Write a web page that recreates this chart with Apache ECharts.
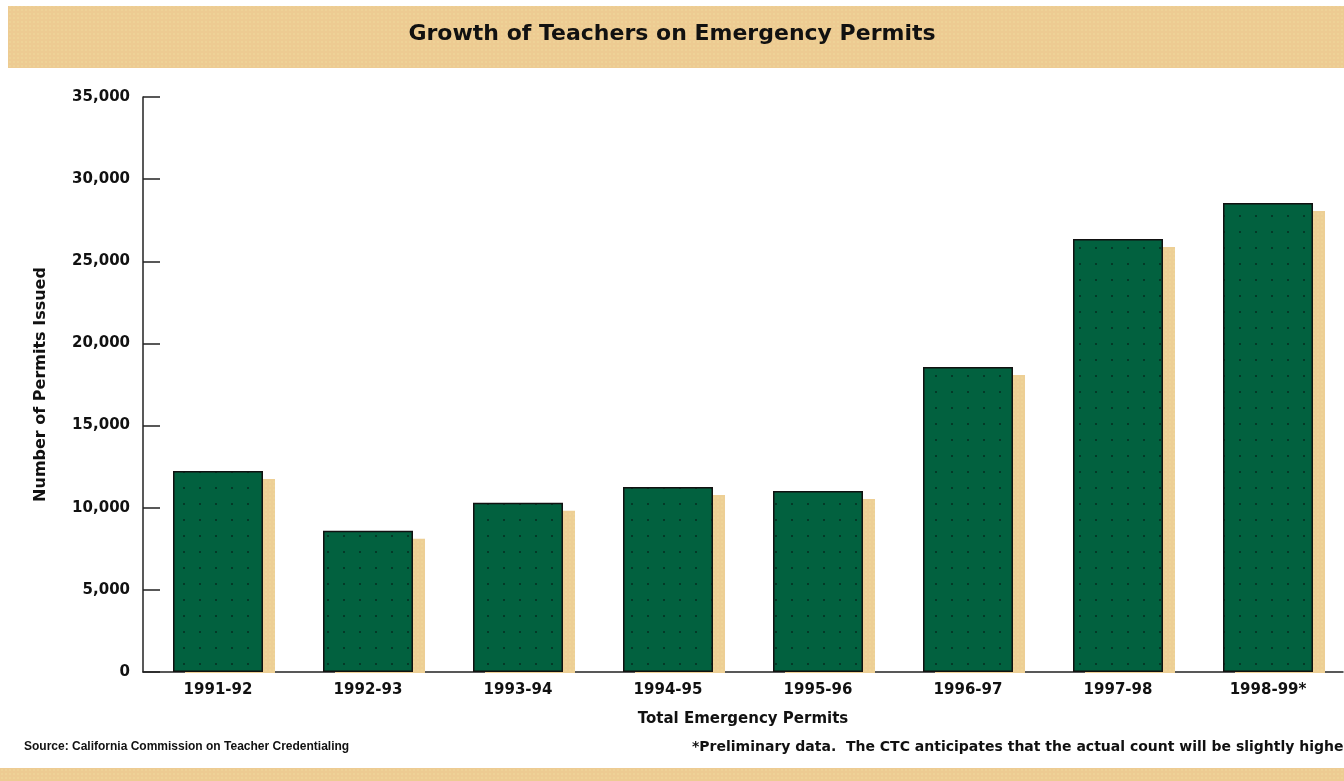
<!DOCTYPE html>
<html>
<head>
<meta charset="utf-8">
<title>Growth of Teachers on Emergency Permits</title>
<script src="https://cdn.jsdelivr.net/npm/echarts@6/dist/echarts.min.js"></script>
<style>
    html,body{margin:0;padding:0;background:#fff;}
    #main{width:1344px;height:781px;}
</style>
</head>
<body>
<div id="main"></div>
<script>
    // data
    const years = ['1991-92', '1992-93', '1993-94', '1994-95', '1995-96', '1996-97', '1997-98', '1998-99*'];
    const permits = [12230, 8600, 10300, 11260, 11020, 18560, 26350, 28550];
    const yTicks = [0, 5000, 10000, 15000, 20000, 25000, 30000, 35000];

    const FONT = '"DejaVu Sans", Arial, sans-serif';
    const FONT_N = '"Liberation Sans", Arial, sans-serif';

    // small dotted tiles used as fills
    function dotTile(bg, dot, size, r){
        const c = document.createElement('canvas');
        c.width = size; c.height = size;
        const ctx = c.getContext('2d');
        ctx.fillStyle = bg;
        ctx.fillRect(0, 0, size, size);
        ctx.fillStyle = dot;
        ctx.fillRect(size / 2 - r / 2, size / 2 - r / 2, r, r);
        return c;
    }
    const barFill = {image: dotTile('#02613f', '#043a28', 16, 2), repeat: 'repeat'};
    const bandFill = {image: dotTile('#edcb92', '#f4e6a6', 4, 1), repeat: 'repeat'};
    const shadowFill = {image: dotTile('#edcf95', '#f3e4a4', 4, 1), repeat: 'repeat'};

    const chart = echarts.init(document.getElementById('main'));

    // tan drop shadow behind every bar, offset right/down, cut at the zero line
    function renderShadow(params, api){
        const top = api.coord([api.value(0), api.value(1)]);
        const base = api.coord([api.value(0), 0]);
        const w = api.size([1, 0])[0] * 0.6;
        const y = top[1] + 8;
        return {
            type: 'rect',
            shape: {x: top[0] - w / 2 + 12, y: y, width: w, height: base[1] - y + 1},
            style: {fill: shadowFill}
        };
    }

    const option = {
        animation: false,
        backgroundColor: '#ffffff',
        grid: {left: 143, right: 1, top: 97, bottom: 109, containLabel: false},
        graphic: [
            {type: 'rect', shape: {x: 8, y: 6, width: 1336, height: 62}, style: {fill: bandFill}, z: 0},
            {type: 'rect', shape: {x: 0, y: 768, width: 1344, height: 13}, style: {fill: bandFill}, z: 0},
            {type: 'text', left: 'center', top: 23, z: 5,
                style: {text: 'Growth of Teachers on Emergency Permits', font: 'bold 22px ' + FONT, fill: '#111'}},
            {type: 'text', left: 24, top: 741, z: 5,
                style: {text: 'Source: California Commission on Teacher Credentialing', font: 'bold 12px ' + FONT_N, fill: '#111'}},
            {type: 'text', left: 692, top: 740, z: 5,
                style: {text: '*Preliminary data.  The CTC anticipates that the actual count will be slightly higher.', font: 'bold 14px ' + FONT, fill: '#111'}}
        ],
        xAxis: {
            type: 'category',
            data: years,
            name: 'Total Emergency Permits',
            nameLocation: 'middle',
            nameGap: 40,
            nameTextStyle: {fontFamily: FONT, fontWeight: 'bold', fontSize: 15, color: '#111'},
            axisLine: {lineStyle: {color: '#222', width: 1.5}},
            axisTick: {inside: true, length: 14, interval: 0, lineStyle: {color: '#222', width: 1.5}},
            axisLabel: {margin: 11, fontFamily: FONT, fontWeight: 'bold', fontSize: 15, color: '#111'},
            splitLine: {show: false}
        },
        yAxis: {
            type: 'value',
            min: yTicks[0],
            max: yTicks[yTicks.length - 1],
            interval: yTicks[1] - yTicks[0],
            name: 'Number of Permits Issued',
            nameLocation: 'middle',
            nameRotate: 90,
            nameGap: 94,
            nameTextStyle: {fontFamily: FONT, fontWeight: 'bold', fontSize: 16, color: '#111'},
            axisLine: {show: true, lineStyle: {color: '#222', width: 1.5}},
            axisTick: {show: true, inside: true, length: 17, lineStyle: {color: '#222', width: 1.5}},
            axisLabel: {
                margin: 13,
                fontFamily: FONT, fontWeight: 'bold', fontSize: 15, color: '#111',
                formatter: v => v.toLocaleString('en-US')
            },
            splitLine: {show: false}
        },
        series: [
            {
                type: 'custom',
                renderItem: renderShadow,
                data: permits.map((v, i) => [i, v]),
                encode: {x: 0, y: 1},
                silent: true,
                z: 1
            },
            {
                type: 'bar',
                data: permits,
                barWidth: '60%',
                itemStyle: {
                    color: barFill,
                    borderColor: '#111',
                    borderWidth: 1.5
                },
                z: 2
            }
        ]
    };

    chart.setOption(option);
</script>
</body>
</html>
